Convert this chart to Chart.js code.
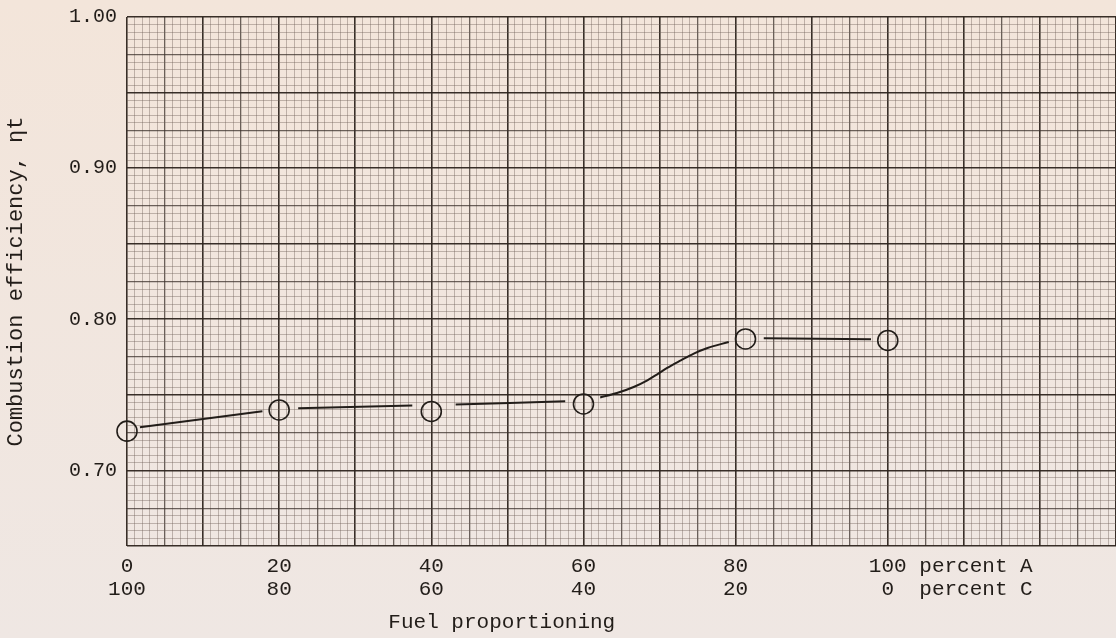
<!DOCTYPE html>
<html>
<head>
<meta charset="utf-8">
<script src="https://cdn.jsdelivr.net/npm/chart.js@4.4.1/dist/chart.umd.min.js"></script>
<style>
html,body{margin:0;padding:0;background:#f0e5dd;}
#wrap{width:1116px;height:638px;}
</style>
</head>
<body>
<div id="wrap"><canvas id="c" width="1116" height="638"></canvas></div>
<script>
// Measured points (percent A, combustion efficiency)
const pointX = [0, 20, 40, 60, 81.3, 100];
const pointY = [0.726, 0.740, 0.739, 0.744, 0.787, 0.786];
// Faired curve as drawn (null = gap at a circle)
const curveX = [1.7, 17.8, null, 22.5, 37.5, null, 43.2, 57.6, null, 62.2, 64.4, 66.6, 68.4, 69.7, 71.0, 72.8, 74.5, 76.3, 79.1, null, 83.7, 97.8];
const curveY = [0.7285, 0.7391, null, 0.7411, 0.7430, null, 0.7437, 0.7457, null, 0.7483, 0.7512, 0.7552, 0.7596, 0.7636, 0.7678, 0.7728, 0.7773, 0.7810, 0.7850, null, 0.7874, 0.7868];
// Tick labels
const pctA = [0, 20, 40, 60, 80, 100];
const pctC = [100, 80, 60, 40, 20, 0];
const yLabels = {"1.00": 1.00, "0.90": 0.90, "0.80": 0.80, "0.70": 0.70};

const INK = '#221d19';
const FONT = "'Liberation Mono', 'DejaVu Sans Mono', monospace";

const curveData = curveX.map((x, i) => (x === null ? {x: (curveX[i-1]), y: null} : {x: x, y: curveY[i]}));
const pointData = pointX.map((x, i) => ({x: x, y: pointY[i]}));

function xLabel(v) {
  const r = Math.round(v);
  const i = pctA.indexOf(r);
  if (Math.abs(v - r) > 1e-6 || i < 0) return '';
  if (r === 100) return ['          100 percent A', '           0  percent C'];
  return [String(pctA[i]), String(pctC[i])];
}
function yLabel(v) {
  for (const k in yLabels) if (Math.abs(yLabels[k] - v) < 1e-6) return k;
  return '';
}
function gridColor(r) {
  if (r % 10 === 0) return 'rgba(45,36,30,0.95)';
  if (r % 5 === 0) return 'rgba(60,50,44,0.75)';
  return 'rgba(110,96,88,0.5)';
}
function gridWidth(r) {
  if (r % 10 === 0) return 1.6;
  if (r % 5 === 0) return 1.3;
  return 0.8;
}
function yIdx(v) { return Math.round(v / 0.005); }

const paper = {
  id: 'paper',
  beforeDraw(chart) {
    const ctx = chart.ctx;
    const g = ctx.createLinearGradient(0, 0, 0, chart.height);
    g.addColorStop(0, '#f3e5da');
    g.addColorStop(1, '#efe7e3');
    ctx.save();
    ctx.fillStyle = g;
    ctx.fillRect(0, 0, chart.width, chart.height);
    ctx.restore();
  }
};

new Chart(document.getElementById('c'), {
  type: 'scatter',
  data: {
    datasets: [
      {
        label: 'curve',
        data: curveData,
        showLine: true,
        spanGaps: false,
        cubicInterpolationMode: 'monotone',
        borderColor: INK,
        borderWidth: 2,
        pointRadius: 0,
        pointHoverRadius: 0
      },
      {
        label: 'points',
        data: pointData,
        showLine: false,
        pointStyle: 'circle',
        pointRadius: 10,
        pointBorderWidth: 1.6,
        pointBorderColor: INK,
        pointBackgroundColor: 'rgba(0,0,0,0)',
        clip: false
      }
    ]
  },
  options: {
    responsive: false,
    animation: false,
    events: [],
    layout: {padding: 0, autoPadding: false},
    plugins: {legend: {display: false}, tooltip: {enabled: false}},
    scales: {
      x: {
        type: 'linear',
        min: 0,
        max: 130,
        afterFit(s) { s.height = 92; s.paddingRight = 0; s.paddingLeft = 0; },
        border: {display: false},
        grid: {
          drawTicks: false,
          color: c => gridColor(Math.round(c.tick.value)),
          lineWidth: c => gridWidth(Math.round(c.tick.value))
        },
        ticks: {
          stepSize: 1,
          autoSkip: false,
          maxRotation: 0,
          minRotation: 0,
          padding: 9,
          color: INK,
          font: {family: FONT, size: 21, lineHeight: 1.1},
          callback: v => xLabel(v)
        },
        title: {
          display: true,
          text: 'Fuel proportioning                   ',
          color: INK,
          font: {family: FONT, size: 21},
          padding: {top: 0, bottom: 3}
        }
      },
      y: {
        type: 'linear',
        min: 0.65,
        max: 1.00,
        afterFit(s) { s.width = 127; s.paddingTop = 17; s.paddingBottom = 0; },
        border: {display: false},
        grid: {
          drawTicks: false,
          color: c => gridColor(yIdx(c.tick.value)),
          lineWidth: c => gridWidth(yIdx(c.tick.value))
        },
        ticks: {
          stepSize: 0.005,
          autoSkip: false,
          padding: 10,
          color: INK,
          font: {family: FONT, size: 20},
          callback: v => yLabel(v)
        },
        title: {
          display: true,
          text: 'Combustion efficiency, \u03b7t',
          color: INK,
          font: {family: FONT, size: 22},
          padding: {top: 3, bottom: 0}
        }
      }
    }
  },
  plugins: [paper]
});
</script>
</body>
</html>
